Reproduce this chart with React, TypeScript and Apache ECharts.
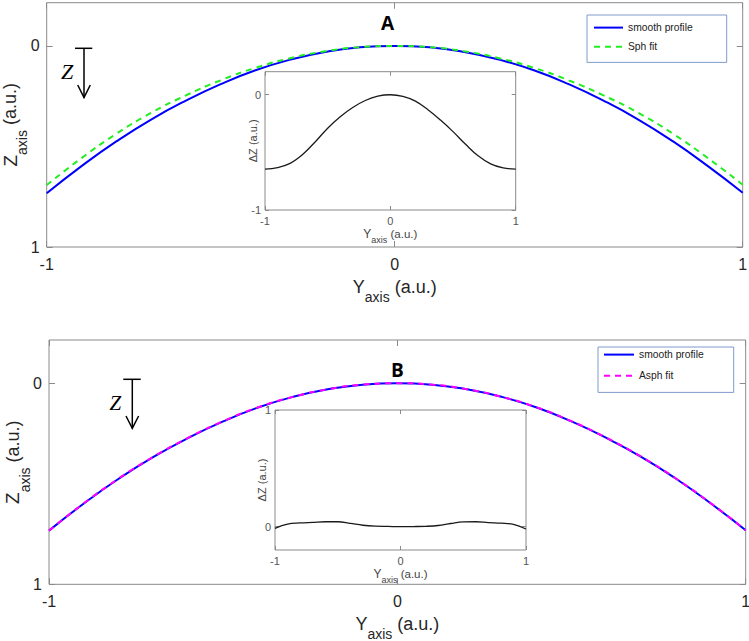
import React, { useEffect, useRef } from "react";
import * as echarts from "echarts";

// ---- data ----
const Y_POS = [-1, -0.9, -0.8, -0.7, -0.6, -0.5, -0.4, -0.3, -0.2, -0.1, 0, 0.1, 0.2, 0.3, 0.4, 0.5, 0.6, 0.7, 0.8, 0.9, 1];

const profileA = [0.733, 0.598, 0.475, 0.366, 0.272, 0.19, 0.121, 0.068, 0.03, 0.007, 0, 0.007, 0.03, 0.068, 0.121, 0.19, 0.272, 0.366, 0.475, 0.598, 0.73];
const sphFitA = [0.692, 0.558, 0.437, 0.333, 0.246, 0.171, 0.109, 0.061, 0.027, 0.006, 0, 0.006, 0.027, 0.061, 0.109, 0.171, 0.246, 0.333, 0.437, 0.558, 0.69];
const deltaA = [-0.646, -0.632, -0.595, -0.518, -0.41, -0.29, -0.19, -0.11, -0.05, -0.012, 0, -0.014, -0.055, -0.13, -0.22, -0.32, -0.43, -0.53, -0.6, -0.635, -0.646];

const profileB = [0.733, 0.598, 0.475, 0.366, 0.272, 0.19, 0.121, 0.068, 0.03, 0.007, 0, 0.007, 0.03, 0.068, 0.121, 0.19, 0.272, 0.366, 0.475, 0.598, 0.731];
const asphFitB = [0.733, 0.597, 0.474, 0.365, 0.271, 0.189, 0.12, 0.068, 0.03, 0.007, 0, 0.007, 0.03, 0.068, 0.12, 0.189, 0.271, 0.365, 0.474, 0.597, 0.731];
const deltaB = [-0.014, 0.022, 0.032, 0.037, 0.042, 0.042, 0.028, 0.012, 0.004, 0.002, 0, 0.001, 0.003, 0.01, 0.027, 0.041, 0.042, 0.035, 0.03, 0.02, -0.02];

const MAIN_Y_TICKS = [0, 1];
const INSET_A_TICKS = [-1, 0];
const INSET_B_TICKS = [0, 1];

const LEG_A = ["smooth profile", "Sph fit"];
const LEG_B = ["smooth profile", "Asph fit"];

const pairs = (ys: number[]) => Y_POS.map((x, i) => [x, ys[i]]);

const AX = "#8a8a8a";
const TXT = "#262626";
const FONT = "Liberation Sans, Arial, sans-serif";

function makeAxes(opts: {
  grid: number;
  ymin: number;
  ymax: number;
  yticks: number[];
  inverse: boolean;
  inset: boolean;
  xName: string;
  yName: string;
  xNameGap: number;
  yNameGap: number;
  xRich: any;
  yRich: any;
}) {
  const { grid, ymin, ymax, yticks, inverse, inset } = opts;
  const z = inset ? 11 : 1;
  const labSize = inset ? 11 : 16;
  const labColor = inset ? "#555" : TXT;
  const tickLen = inset ? 4 : 6;
  const base = {
    gridIndex: grid,
    type: "value",
    z,
    splitLine: { show: false },
    axisLine: { show: false, onZero: false },
    nameMoveOverlap: false,
  };
  const xs = [
    {
      ...base,
      position: "bottom",
      min: -1,
      max: 1,
      interval: 1,
      axisTick: { show: true, inside: true, length: tickLen, lineStyle: { color: AX } },
      axisLabel: { fontSize: labSize, color: labColor, margin: inset ? 5 : 9, fontFamily: FONT },
      name: opts.xName,
      nameLocation: "middle",
      nameGap: opts.xNameGap,
      nameTextStyle: { rich: opts.xRich },
    },
    {
      ...base,
      position: "top",
      min: -1,
      max: 1,
      interval: 1,
      axisTick: { show: true, inside: true, length: tickLen, lineStyle: { color: AX } },
      axisLabel: { show: false },
    },
  ];
  const ys = [
    {
      ...base,
      position: "left",
      min: ymin,
      max: ymax,
      inverse,
      axisTick: { show: true, inside: true, length: tickLen, customValues: yticks, lineStyle: { color: AX } },
      axisLabel: { fontSize: labSize, color: labColor, margin: inset ? 4 : 7, customValues: yticks, fontFamily: FONT },
      name: opts.yName,
      nameLocation: "middle",
      nameGap: opts.yNameGap,
      nameRotate: 90,
      nameTextStyle: { rich: opts.yRich },
    },
    {
      ...base,
      position: "right",
      min: ymin,
      max: ymax,
      inverse,
      axisTick: { show: true, inside: true, length: tickLen, customValues: yticks, lineStyle: { color: AX } },
      axisLabel: { show: false },
    },
  ];
  return { xs, ys };
}

const mainRichX = {
  a: { fontSize: 18, color: TXT, fontFamily: FONT },
  b: { fontSize: 14, color: TXT, fontFamily: FONT, padding: [10, 0, -10, 0] },
  c: { fontSize: 18, color: TXT, fontFamily: FONT },
};
const mainRichY = {
  a: { fontSize: 19, color: TXT, fontFamily: FONT },
  b: { fontSize: 14, color: TXT, fontFamily: FONT, padding: [12, 0, -12, 0] },
  c: { fontSize: 18, color: TXT, fontFamily: FONT },
};
const insetRichX = {
  a: { fontSize: 12, color: "#444", fontFamily: FONT },
  b: { fontSize: 9, color: "#444", fontFamily: FONT, padding: [6, 0, -6, 0] },
  c: { fontSize: 11.5, color: "#444", fontFamily: FONT },
};
const insetRichY = {
  c: { fontSize: 11, color: "#444", fontFamily: FONT },
};

export default function App() {
  const ref = useRef<HTMLDivElement>(null);
  useEffect(() => {
    if (!ref.current) return;
    const chart = echarts.init(ref.current, null, { renderer: "svg" });

    const NX = "{a|Y}{b|axis}{c| (a.u.)}";
    const NY = "{a|Z}{b|axis}{c| (a.u.)}";
    const NI = "{c|ΔZ (a.u.)}";
    const mA = makeAxes({ grid: 0, ymin: -0.215, ymax: 1, yticks: MAIN_Y_TICKS, inverse: true, inset: false, xName: NX, yName: NY, xNameGap: 31, yNameGap: 27, xRich: mainRichX, yRich: mainRichY });
    const iA = makeAxes({ grid: 1, ymin: -1, ymax: 0.2, yticks: INSET_A_TICKS, inverse: false, inset: true, xName: NX, yName: NI, xNameGap: 18, yNameGap: 7, xRich: insetRichX, yRich: insetRichY });
    const mB = makeAxes({ grid: 2, ymin: -0.215, ymax: 1, yticks: MAIN_Y_TICKS, inverse: true, inset: false, xName: NX, yName: NY, xNameGap: 31, yNameGap: 27, xRich: mainRichX, yRich: mainRichY });
    const iB = makeAxes({ grid: 3, ymin: -0.2, ymax: 1, yticks: INSET_B_TICKS, inverse: false, inset: true, xName: NX, yName: NI, xNameGap: 18, yNameGap: 8, xRich: insetRichX, yRich: insetRichY });

    const gridBase = { show: true, borderColor: AX, borderWidth: 1, outerBoundsMode: "none", containLabel: false };

    const legendBase = {
      orient: "vertical",
      itemWidth: 29,
      itemHeight: 14,
      backgroundColor: "#fff",
      borderColor: "#7f9ccc",
      borderWidth: 1,
      borderRadius: 0,
      textStyle: { fontSize: 10.3, color: "#222", fontFamily: FONT },
      itemStyle: { opacity: 0 },
      selectedMode: false,
    };

    const option: any = {
      animation: false,
      backgroundColor: "#fff",
      textStyle: { fontFamily: FONT },
      title: [
        { text: "A", left: 376, top: 8, textStyle: { fontSize: 19, fontWeight: "bold", color: "#000", fontFamily: "Open Sans" } },
        { text: "B", left: 386, top: 355, textStyle: { fontSize: 19, fontWeight: "bold", color: "#000", fontFamily: "Open Sans" } },
      ],
      legend: [
        { ...legendBase, data: LEG_A, left: 587, top: 15, padding: [7, 34, 10, 6], itemGap: 8 },
        { ...legendBase, data: LEG_B, left: 598, top: 347, padding: [2, 30, 11, 5], itemWidth: 30, itemGap: 10 },
      ],
      grid: [
        { ...gridBase, left: 46.7, top: 2.7, width: 696, height: 244.3 },
        { ...gridBase, left: 265, top: 71.7, width: 250.7, height: 138.3, backgroundColor: "#fff", z: 10 },
        { ...gridBase, left: 49, top: 340, width: 696.7, height: 244.3 },
        { ...gridBase, left: 275, top: 410, width: 251, height: 140, backgroundColor: "#fff", z: 10 },
      ],
      xAxis: [...mA.xs, ...iA.xs, ...mB.xs, ...iB.xs],
      yAxis: [...mA.ys, ...iA.ys, ...mB.ys, ...iB.ys],
      series: [
        { name: "smooth profile", type: "line", xAxisIndex: 0, yAxisIndex: 0, data: pairs(profileA), smooth: true, symbol: "none", z: 3, lineStyle: { color: "#0000ff", width: 2 }, itemStyle: { color: "#0000ff" } },
        { name: "Sph fit", type: "line", xAxisIndex: 0, yAxisIndex: 0, data: pairs(sphFitA), smooth: true, symbol: "none", z: 4, lineStyle: { color: "#22ee22", width: 2, type: [6, 5] }, itemStyle: { color: "#22ee22" } },
        { name: "ΔZ A", type: "line", xAxisIndex: 2, yAxisIndex: 2, data: pairs(deltaA), smooth: 0.4, symbol: "none", z: 12, lineStyle: { color: "#1a1a1a", width: 1.3 } },
        { name: "smooth profile", type: "line", xAxisIndex: 4, yAxisIndex: 4, data: pairs(profileB), smooth: true, symbol: "none", z: 3, lineStyle: { color: "#0000ff", width: 2 }, itemStyle: { color: "#0000ff" } },
        { name: "Asph fit", type: "line", xAxisIndex: 4, yAxisIndex: 4, data: pairs(asphFitB), smooth: true, symbol: "none", z: 4, lineStyle: { color: "#ff00ff", width: 2, type: [6, 5] }, itemStyle: { color: "#ff00ff" } },
        { name: "ΔZ B", type: "line", xAxisIndex: 6, yAxisIndex: 6, data: pairs(deltaB), smooth: 0.4, symbol: "none", z: 12, lineStyle: { color: "#1a1a1a", width: 1.3 } },
      ],
      graphic: [
        { type: "line", shape: { x1: 75, y1: 48.3, x2: 92.3, y2: 48.3 }, style: { stroke: "#000", lineWidth: 1.5 } },
        { type: "line", shape: { x1: 84, y1: 48.3, x2: 84, y2: 97.5 }, style: { stroke: "#000", lineWidth: 1.5 } },
        { type: "polyline", shape: { points: [[77.7, 85], [84, 97.5], [90.3, 85]] }, style: { stroke: "#000", lineWidth: 1.5, fill: "none" } },
        { type: "text", x: 67, y: 71, style: { text: "Z", fontSize: 22, fontFamily: "Liberation Serif", fontStyle: "italic", fill: "#000", align: "center", verticalAlign: "middle" } },
        { type: "line", shape: { x1: 123.3, y1: 379.3, x2: 140.7, y2: 379.3 }, style: { stroke: "#000", lineWidth: 1.5 } },
        { type: "line", shape: { x1: 132.3, y1: 379.3, x2: 132.3, y2: 428.3 }, style: { stroke: "#000", lineWidth: 1.5 } },
        { type: "polyline", shape: { points: [[126, 416], [132.3, 428.3], [138.6, 416]] }, style: { stroke: "#000", lineWidth: 1.5, fill: "none" } },
        { type: "text", x: 115.3, y: 403, style: { text: "Z", fontSize: 21, fontFamily: "Liberation Serif", fontStyle: "italic", fill: "#000", align: "center", verticalAlign: "middle" } },
      ],
    };
    chart.setOption(option);
    return () => chart.dispose();
  }, []);
  return <div ref={ref} style={{ position: "fixed", left: 0, top: 0, width: 749, height: 641, background: "#fff" }} />;
}
